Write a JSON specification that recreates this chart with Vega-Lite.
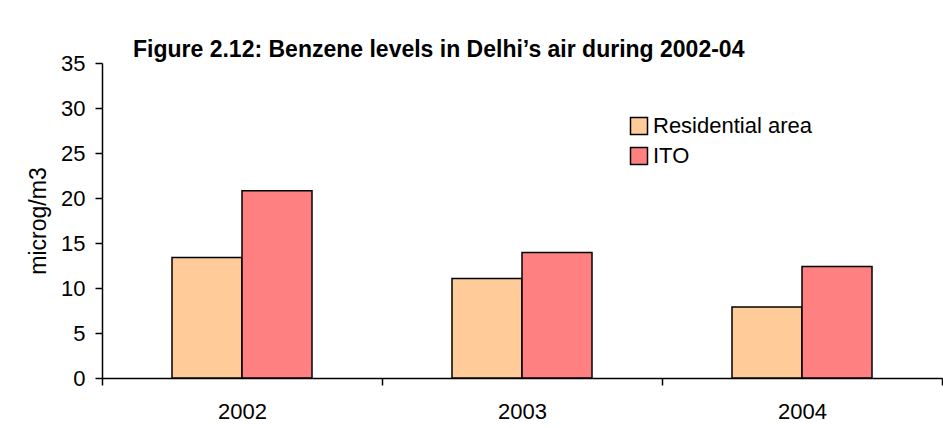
{
  "$schema": "https://vega.github.io/schema/vega-lite/v6.json",
  "autosize": {"type": "none"},
  "width": 840,
  "height": 315,
  "padding": {"left": 102, "top": 63, "right": 1, "bottom": 50},
  "background": "white",
  "title": {
    "text": "Figure 2.12: Benzene levels in Delhi’s air during 2002-04",
    "font": "Liberation Sans",
    "fontSize": 23,
    "fontWeight": "bold",
    "color": "black",
    "anchor": "start",
    "frame": "group",
    "baseline": "alphabetic",
    "offset": 7,
    "dx": 31,
    "dy": 35
  },
  "data": {
    "values": [
      {"Year": "2002", "Site": "Residential area", "Benzene": 13.4},
      {"Year": "2002", "Site": "ITO", "Benzene": 20.8},
      {"Year": "2003", "Site": "Residential area", "Benzene": 11.05},
      {"Year": "2003", "Site": "ITO", "Benzene": 13.95},
      {"Year": "2004", "Site": "Residential area", "Benzene": 7.9},
      {"Year": "2004", "Site": "ITO", "Benzene": 12.4}
    ]
  },
  "mark": {"type": "bar", "stroke": "black", "strokeWidth": 1.5, "opacity": 1},
  "encoding": {
    "x": {
      "field": "Year",
      "type": "nominal",
      "scale": {"paddingInner": 0, "paddingOuter": 0},
      "axis": {
        "title": null,
        "labelAngle": 0,
        "tickBand": "extent",
        "tickSize": 7,
        "labelPadding": 16
      }
    },
    "xOffset": {
      "field": "Site",
      "type": "nominal",
      "sort": ["Residential area", "ITO"],
      "scale": {"paddingInner": 0, "paddingOuter": 1.06}
    },
    "y": {
      "field": "Benzene",
      "type": "quantitative",
      "scale": {"domain": [0, 35], "nice": false},
      "axis": {
        "title": "microg/m3",
        "values": [0, 5, 10, 15, 20, 25, 30, 35],
        "grid": false,
        "tickSize": 7,
        "labelPadding": 10,
        "titleAngle": -90,
        "titleX": -64,
        "titleY": 157.5,
        "titleAlign": "center",
        "titleBaseline": "middle",
        "titleFontWeight": "normal",
        "titleFontSize": 23
      }
    },
    "color": {
      "field": "Site",
      "type": "nominal",
      "scale": {"domain": ["Residential area", "ITO"], "range": ["#FFCC99", "#FF8080"]},
      "legend": {
        "title": null,
        "orient": "none",
        "legendX": 526,
        "legendY": 52,
        "padding": 0,
        "rowPadding": 6,
        "symbolType": "square",
        "symbolSize": 289,
        "symbolStrokeColor": "black",
        "symbolStrokeWidth": 1.5,
        "symbolOpacity": 1,
        "labelOffset": 3,
        "labelFont": "Liberation Sans",
        "labelFontSize": 22,
        "labelColor": "black"
      }
    }
  },
  "config": {
    "view": {"stroke": null},
    "axis": {
      "labelFont": "Liberation Sans",
      "labelFontSize": 22,
      "labelColor": "black",
      "titleFont": "Liberation Sans",
      "titleColor": "black",
      "domainColor": "black",
      "domainWidth": 1.5,
      "tickColor": "black",
      "tickWidth": 1.5
    }
  }
}
